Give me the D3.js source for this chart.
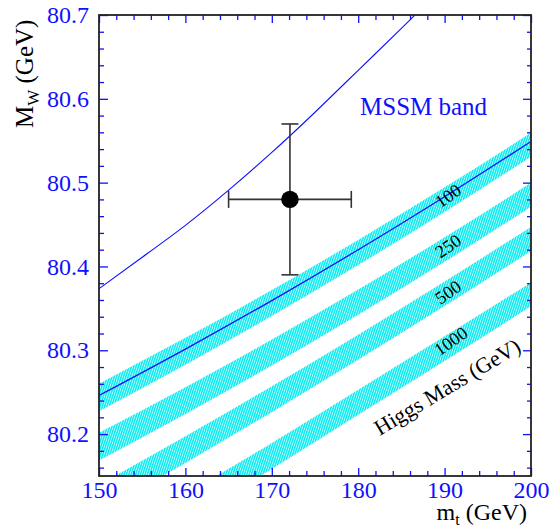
<!DOCTYPE html>
<html>
<head>
<meta charset="utf-8">
<script src="https://cdn.jsdelivr.net/npm/d3@7"></script>
<style>
  html, body { margin: 0; padding: 0; background: #fff; }
  svg { display: block; }
  svg text { font-family: "Liberation Serif", "Times New Roman", serif !important; }
</style>
</head>
<body>
<svg id="chart" width="551" height="527"></svg>
<script>
// ---------------- data ----------------
const mtGrid = [150, 160, 170, 180, 190, 200];
const higgsMasses = ["100", "250", "500", "1000"];
const band100  = [80.2437, 80.2988, 80.3564, 80.4167, 80.4797, 80.5452];
const band250  = [80.1850, 80.2399, 80.2973, 80.3574, 80.4202, 80.4855];
const band500  = [80.1230, 80.1815, 80.2417, 80.3036, 80.3674, 80.4327];
const band1000 = [80.0500, 80.1120, 80.1740, 80.2380, 80.3020, 80.3667];
const bandHalfWidth = [0.0165, 0.0160, 0.0155, 0.0150, 0.0147, 0.0143];
const smLine100 = [80.2460, 80.3014, 80.3593, 80.4199, 80.4832, 80.5490];

const mssmMt = [150, 155, 160, 165, 170, 175, 180, 185, 190];
const mssmMW = [80.3735, 80.411, 80.449, 80.491, 80.536, 80.584, 80.634, 80.684, 80.735];

const measMt = [172.1], measMtErr = [7.1];
const measMW = [80.48], measMWErr = [0.09];

const xTicks = [150, 160, 170, 180, 190, 200];
const yTicks = [80.2, 80.3, 80.4, 80.5, 80.6, 80.7];

// label anchor positions (data coords)
const labelMt = [190.4, 190.4, 190.4, 190.7];
const labelMW = [80.4845, 80.4245, 80.3695, 80.3110];
const titleMt = 190.28, titleMW = 80.2566;

// ---------------- layout ----------------
const svg = d3.select("#chart");
const L = 99, R = 531, T = 15, B = 476;
const x = d3.scaleLinear().domain([150, 200]).range([L, R]);
const y = d3.scaleLinear().domain([80.15, 80.7]).range([B, T]);
const blue = "#1010ff";
const serif = "'Liberation Serif', 'Times New Roman', serif";

const defs = svg.append("defs");
defs.append("clipPath").attr("id", "plotclip")
  .append("rect").attr("x", L).attr("y", T).attr("width", R - L).attr("height", B - T);
const pat = defs.append("pattern").attr("id", "hatch")
  .attr("patternUnits", "userSpaceOnUse").attr("width", 2.2).attr("height", 10)
  .attr("patternTransform", "rotate(18)");
pat.append("rect").attr("width", 2.2).attr("height", 10).attr("fill", "#b8ffff");
pat.append("line").attr("x1", 0.7).attr("y1", 0).attr("x2", 0.7).attr("y2", 10)
  .attr("stroke", "#00e8ee").attr("stroke-width", 1.3);

const plot = svg.append("g").attr("clip-path", "url(#plotclip)");

const bands = [band100, band250, band500, band1000];
const area = d3.area()
  .x((d, i) => x(mtGrid[i]))
  .y0((d, i) => y(d - bandHalfWidth[i]))
  .y1((d, i) => y(d + bandHalfWidth[i]))
  .curve(d3.curveMonotoneX);
plot.selectAll("path.band").data(bands).enter().append("path")
  .attr("class", "band").attr("d", area).attr("fill", "url(#hatch)");

const line = d3.line().curve(d3.curveMonotoneX);
plot.append("path")
  .attr("d", line(smLine100.map((v, i) => [x(mtGrid[i]), y(v)])))
  .attr("fill", "none").attr("stroke", blue).attr("stroke-width", 1.3);
plot.append("path")
  .attr("d", d3.line().curve(d3.curveNatural)(mssmMW.map((v, i) => [x(mssmMt[i]), y(v)])))
  .attr("fill", "none").attr("stroke", blue).attr("stroke-width", 1.1);

// measurement
const eb = plot.append("g").attr("stroke", "#333").attr("stroke-width", 1.6);
measMt.forEach((m, i) => {
  const cx = x(m), cy = y(measMW[i]);
  const x0 = x(m - measMtErr[i]), x1 = x(m + measMtErr[i]);
  const y0 = y(measMW[i] - measMWErr[i]), y1 = y(measMW[i] + measMWErr[i]);
  const c = 8.5;
  eb.append("line").attr("x1", x0).attr("x2", x1).attr("y1", cy).attr("y2", cy);
  eb.append("line").attr("x1", cx).attr("x2", cx).attr("y1", y0).attr("y2", y1);
  eb.append("line").attr("x1", x0).attr("x2", x0).attr("y1", cy - c).attr("y2", cy + c);
  eb.append("line").attr("x1", x1).attr("x2", x1).attr("y1", cy - c).attr("y2", cy + c);
  eb.append("line").attr("x1", cx - c).attr("x2", cx + c).attr("y1", y0).attr("y2", y0);
  eb.append("line").attr("x1", cx - c).attr("x2", cx + c).attr("y1", y1).attr("y2", y1);
  plot.append("circle").attr("cx", cx).attr("cy", cy).attr("r", 8.7).attr("fill", "#000");
});

// band labels
higgsMasses.forEach((h, i) => {
  svg.append("text")
    .attr("transform", `translate(${x(labelMt[i])},${y(labelMW[i])}) rotate(-35)`)
    .attr("text-anchor", "middle").attr("dy", "0.35em")
    .style("font-family", serif).attr("font-size", 18).attr("fill", "#000").text(h);
});
svg.append("text")
  .attr("transform", `translate(${x(titleMt)},${y(titleMW)}) rotate(-31)`)
  .attr("text-anchor", "middle").attr("dy", "0.35em")
  .style("font-family", serif).attr("font-size", 22).attr("fill", "#000").text("Higgs Mass (GeV)");

svg.append("text").attr("x", 360).attr("y", 115)
  .style("font-family", serif).attr("font-size", 25).attr("fill", blue).text("MSSM band");

// ---------------- axes ----------------
const minorX = d3.range(150, 200.01, 2).filter(v => xTicks.indexOf(v) < 0);
const minorY = d3.range(80.16, 80.701, 0.02).map(v => +v.toFixed(2)).filter(v => yTicks.indexOf(v) < 0);

function styleAxis(g) {
  g.attr("font-family", null);
  g.select(".domain").remove();
  g.selectAll(".tick line").attr("stroke", blue).attr("stroke-width", 1.3);
  g.selectAll(".tick text").attr("fill", blue).attr("font-size", 24)
    .style("font-family", serif);
}
svg.append("g").attr("transform", `translate(0,${B})`)
  .call(d3.axisBottom(x).tickValues(xTicks).tickSize(-8).tickPadding(5).tickFormat(d3.format("d")))
  .call(styleAxis);
svg.append("g").attr("transform", `translate(0,${B})`)
  .call(d3.axisBottom(x).tickValues(minorX).tickSize(-5).tickFormat(""))
  .call(styleAxis);
svg.append("g").attr("transform", `translate(0,${T})`)
  .call(d3.axisTop(x).tickValues(xTicks).tickSize(-8).tickFormat(""))
  .call(styleAxis);
svg.append("g").attr("transform", `translate(0,${T})`)
  .call(d3.axisTop(x).tickValues(minorX).tickSize(-5).tickFormat(""))
  .call(styleAxis);
svg.append("g").attr("transform", `translate(${L},0)`)
  .call(d3.axisLeft(y).tickValues(yTicks).tickSize(-9).tickPadding(10).tickFormat(d3.format(".1f")))
  .call(styleAxis);
svg.append("g").attr("transform", `translate(${L},0)`)
  .call(d3.axisLeft(y).tickValues(minorY).tickSize(-5).tickFormat(""))
  .call(styleAxis);
svg.append("g").attr("transform", `translate(${R},0)`)
  .call(d3.axisRight(y).tickValues(yTicks).tickSize(-8).tickFormat(""))
  .call(styleAxis);
svg.append("g").attr("transform", `translate(${R},0)`)
  .call(d3.axisRight(y).tickValues(minorY).tickSize(-4).tickFormat(""))
  .call(styleAxis);

svg.append("rect").attr("x", L).attr("y", T).attr("width", R - L).attr("height", B - T)
  .attr("fill", "none").attr("stroke", "#222").attr("stroke-width", 1.8);

// axis titles
const yt = svg.append("text").attr("transform", "translate(33,128) rotate(-90)")
  .style("font-family", serif).attr("font-size", 25).attr("fill", "#000");
yt.append("tspan").text("M");
yt.append("tspan").attr("font-size", 17).attr("dy", 6).text("W");
yt.append("tspan").attr("dy", -6).text(" (GeV)");

const xt = svg.append("text").attr("x", 527).attr("y", 520).attr("text-anchor", "end")
  .style("font-family", serif).attr("font-size", 24).attr("fill", "#000");
xt.append("tspan").text("m");
xt.append("tspan").attr("font-size", 16).attr("dy", 5).text("t");
xt.append("tspan").attr("dy", -5).text(" (GeV)");
</script>
</body>
</html>
